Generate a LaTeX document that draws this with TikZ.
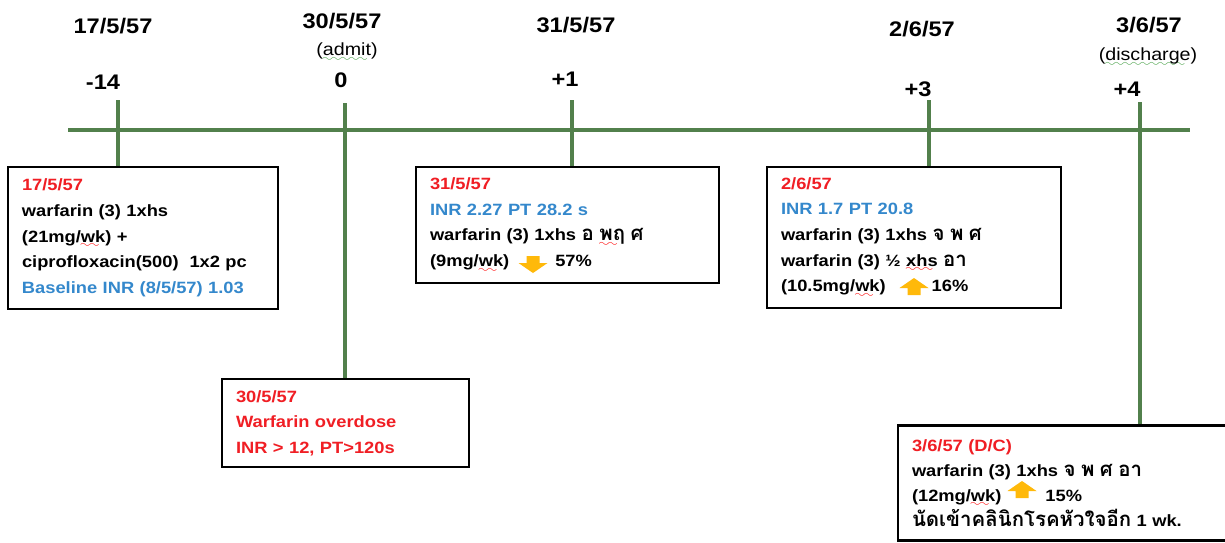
\documentclass[tikz,border=0pt]{standalone}
\usepackage{fontspec}
\setmainfont{Liberation Sans}[FakeStretch=1.12]
\newfontfamily\thaifont[Script=Thai, Scale=1.25]{Loma}
\usepackage{xcolor}
\definecolor{AxisGreen} {RGB}{82, 128, 76}
\definecolor{DateRed}   {RGB}{240, 30, 36}
\definecolor{LabBlue}   {RGB}{52, 136, 204}
\definecolor{DoseGold}  {RGB}{255, 185, 10}
\definecolor{WaveGreen} {RGB}{70, 160, 70}
\usetikzlibrary{positioning}
\newdimen\pxunit \pxunit=0.02cm
\font\wavefont=lasy6
\newcommand\thai[1]{{\thaifont #1}}
\newcommand\spellwave[2]{\setbox0\hbox{#2}%
  \rlap{\textcolor{#1}{\lower3.2pt\hbox to \wd0{\leaders\hbox{\wavefont\char58}\hfil}}}#2}
\newcommand\boxfont{\fontsize{9.3}{14.6}\selectfont\bfseries}

\begin{document}
\begin{tikzpicture}[
  x=0.02cm, y=-0.02cm,
  day/.style={font=\fontsize{12}{14}\selectfont\bfseries},
  note/.style={font=\fontsize{10}{12}\selectfont},
  axis/.style={draw=AxisGreen, line width=2.3pt},
  tick/.style={draw=AxisGreen, line width=2.3pt},
  dosebox/.style={
    draw=black, fill=white,
    line width=1.2pt,
    align=left, font=\boxfont,
    inner xsep=14\pxunit, inner ysep=0pt
  },
  dosearrow/.pic={
    \fill[DoseGold] (-6.5,7) -- (-6.5,0) -- (-14.5,0) -- (0,-10)
      -- (14.5,0) -- (6.5,0) -- (6.5,7) -- cycle;
  }
]
\useasboundingbox (0,0) rectangle (1225,542);
\clip (0,0) rectangle (1225,542);

% time axis
\coordinate (axisL) at (68,130);
\coordinate (axisR) at (1190,130);
\draw[axis] (axisL) -- (axisR);

% day labels
\node[day] (date1) at (113,26) {17/5/57};
\node[day] (day1) at (103,82) {-14};
\node[day] (date2) at (342,21) {30/5/57};
\node[note] (adm) at (347,52) {(\spellwave{WaveGreen}{admit})};
\node[day] (day2) at (341,80) {0};
\node[day] (date3) at (576,25) {31/5/57};
\node[day] (day3) at (565,79) {+1};
\node[day] (date4) at (922,29) {2/6/57};
\node[day] (day4) at (918,89) {+3};
\node[day] (date5) at (1149,25) {3/6/57};
\node[note] (dis) at (1148,57) {(\spellwave{WaveGreen}{discharge})};
\node[day] (day5) at (1127,89) {+4};

% boxes
\node[dosebox, text width=242\pxunit, minimum height=142\pxunit] (b1) at (143,238)
  {\textcolor{DateRed}{17/5/57}\\
   warfarin (3) 1xhs\\
   (21mg/\spellwave{red}{wk}) +\\
   ciprofloxacin(500)~~1x2 pc\\
   \textcolor{LabBlue}{Baseline INR (8/5/57) 1.03}};
\node[dosebox, text width=275\pxunit, minimum height=116\pxunit] (b2) at (567.5,225)
  {\textcolor{DateRed}{31/5/57}\\
   \textcolor{LabBlue}{INR 2.27 PT 28.2 s}\\
   warfarin (3) 1xhs \thai{อ \spellwave{red}{พฤ} ศ}\\
   (9mg/\spellwave{red}{wk})\hspace{46\pxunit}57\%};
\node[dosebox, text width=266\pxunit, minimum height=141\pxunit] (b3) at (914,237.5)
  {\textcolor{DateRed}{2/6/57}\\
   \textcolor{LabBlue}{INR 1.7 PT 20.8}\\
   warfarin (3) 1xhs \thai{จ พ ศ}\\
   warfarin (3) ½ \spellwave{red}{xhs} \thai{อา}\\
   (10.5mg/\spellwave{red}{wk})\hspace{46\pxunit}16\%};
\node[dosebox, text width=219\pxunit, minimum height=88\pxunit, text=DateRed] (b4) at (345.5,423)
  {30/5/57\\
   Warfarin overdose\\
   INR > 12, PT>120s};
\node[dosebox, text width=306\pxunit, minimum height=115\pxunit,
  font=\fontsize{9.3}{14.1}\selectfont\bfseries] (b5) at (1065,483)
  {\textcolor{DateRed}{3/6/57 (D/C)}\\
   warfarin (3) 1xhs \thai{จ พ ศ อา}\\
   (12mg/\spellwave{red}{wk})\hspace{44\pxunit}15\%\\
   \thai{นัดเข้าคลินิกโรคหัวใจอีก} 1 wk.};

% dose change arrows
\pic[rotate=180] (down2) at (533,263) {dosearrow};
\pic (up3) at (914,288) {dosearrow};
\pic (up5) at (1022,491) {dosearrow};

% ticks
\coordinate (t1) at (118,100);
\coordinate (t2) at (345,103);
\coordinate (t3) at (572,100);
\coordinate (t4) at (929,100);
\coordinate (t5) at (1140,102);
\draw[tick] (t1) -- (t1 |- b1.north);
\draw[tick] (t2) -- (t2 |- b4.north);
\draw[tick] (t3) -- (t3 |- b2.north);
\draw[tick] (t4) -- (t4 |- b3.north);
\draw[tick] (t5) -- (t5 |- b5.north);
\end{tikzpicture}
\end{document}
